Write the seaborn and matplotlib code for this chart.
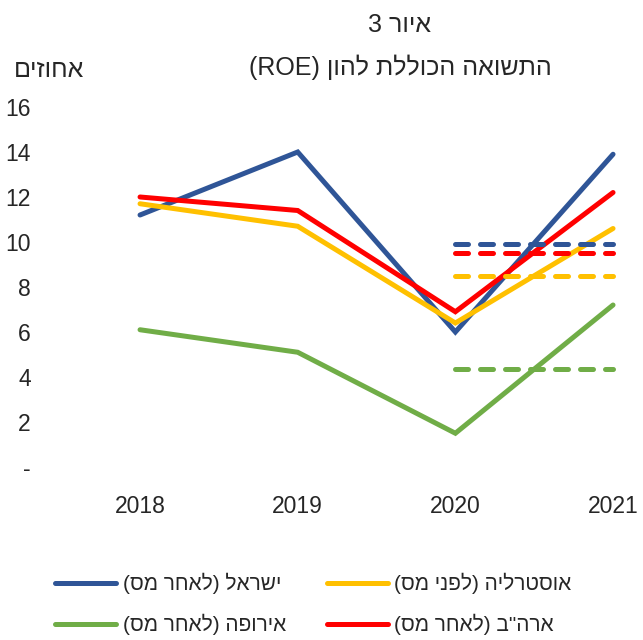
import matplotlib
matplotlib.use("Agg")
import matplotlib.pyplot as plt
import seaborn as sns
import pandas as pd

# ---------------- data ----------------
years = ["2018", "2019", "2020", "2021"]
series_names = ["ישראל (לאחר מס)", "אוסטרליה (לפני מס)", "אירופה (לאחר מס)", 'ארה"ב (לאחר מס)']
israel = [11.2, 14.0, 6.0, 13.9]
australia = [11.7, 10.7, 6.4, 10.6]
europe = [6.1, 5.1, 1.5, 7.2]
usa = [12.0, 11.4, 6.9, 12.2]
avg_years = ["2020", "2021"]
israel_avg = [9.9, 9.9]
australia_avg = [8.5, 8.5]
europe_avg = [4.35, 4.35]
usa_avg = [9.5, 9.5]
y_ticks = [0, 2, 4, 6, 8, 10, 12, 14, 16]
y_tick_labels = ["-", "2", "4", "6", "8", "10", "12", "14", "16"]
title_1 = "איור"
title_num = "3"
title_2 = "התשואה הכוללת להון"
title_2_latin = "(ROE)"
y_unit = "אחוזים"
colors = ["#2F5597", "#FFC000", "#70AD47", "#FF0000"]


def heb(s):
    """Visual (LTR) order for an RTL Hebrew string."""
    swap = {"(": ")", ")": "("}
    return "".join(swap.get(c, c) for c in reversed(s))


vis_names = [heb(n) for n in series_names]
palette = dict(zip(vis_names, colors))

rows = []
for name, vals in zip(vis_names, [israel, australia, europe, usa]):
    for y, v in zip(years, vals):
        rows.append({"year": y, "value": v, "series": name})
df = pd.DataFrame(rows)

rows = []
for name, vals in zip(vis_names, [israel_avg, australia_avg, europe_avg, usa_avg]):
    for y, v in zip(avg_years, vals):
        rows.append({"year": y, "value": v, "series": name})
df_avg = pd.DataFrame(rows)

# ---------------- style ----------------
sns.set_style("white")
plt.rcParams["font.family"] = ["Liberation Sans", "DejaVu Sans"]

fig = plt.figure(figsize=(6.43, 6.40), dpi=100)
W, H = 643, 640
ax_left, ax_right = 61.2, 643
ax_bottom, ax_top = 467, 107
ax = fig.add_axes([ax_left / W, (H - ax_bottom) / H,
                   (ax_right - ax_left) / W, (ax_bottom - ax_top) / H])

lw = 3.6
sns.lineplot(data=df, x="year", y="value", hue="series", hue_order=vis_names,
             palette=palette, linewidth=lw, sort=False, ax=ax,
             solid_capstyle="round", solid_joinstyle="miter", clip_on=False)
sns.lineplot(data=df_avg, x="year", y="value", hue="series", hue_order=vis_names,
             palette=palette, linewidth=lw, sort=False, ax=ax, legend=False,
             linestyle=(0, (2.6, 2.4)), dash_capstyle="round", clip_on=False)

# reorder legend: column 1 Israel, Europe; column 2 Australia, USA
handles, labels = ax.get_legend_handles_labels()
hmap = dict(zip(labels, handles))
order = [vis_names[0], vis_names[2], vis_names[1], vis_names[3]]
ax.get_legend().remove()
leg = fig.legend([hmap[o] for o in order], order, ncol=2,
                 loc="center left", bbox_to_anchor=(55 / W, 1 - 604 / H),
                 frameon=False, fontsize=15, handlelength=2.95,
                 handletextpad=0.3, columnspacing=1.95, labelspacing=0.95,
                 borderpad=0, borderaxespad=0)
for h in leg.get_lines():
    h.set_linewidth(lw)
    h.set_solid_capstyle("round")

ax.set_xlim(-0.5, 3.19)
ax.set_ylim(0, 16)
ax.set_yticks(y_ticks)
ax.set_yticklabels(y_tick_labels)
ax.set_xlabel("")
ax.set_ylabel("")
for s in ax.spines.values():
    s.set_visible(False)
ax.tick_params(axis="y", length=0, pad=22, labelsize=16.5)
ax.tick_params(axis="x", length=0, pad=20, labelsize=16.5)

# title (visual order: number on the left, Hebrew word on the right)
fig.text(400 / W, 1 - 25 / H, title_num + " " + heb(title_1), ha="center",
         va="center", fontsize=18)
fig.text(400 / W, 1 - 67 / H, title_2_latin + " " + heb(title_2), ha="center",
         va="center", fontsize=18)
fig.text(14 / W, 1 - 70 / H, heb(y_unit), ha="left", va="center", fontsize=18)

fig.savefig("out.png", dpi=100)
